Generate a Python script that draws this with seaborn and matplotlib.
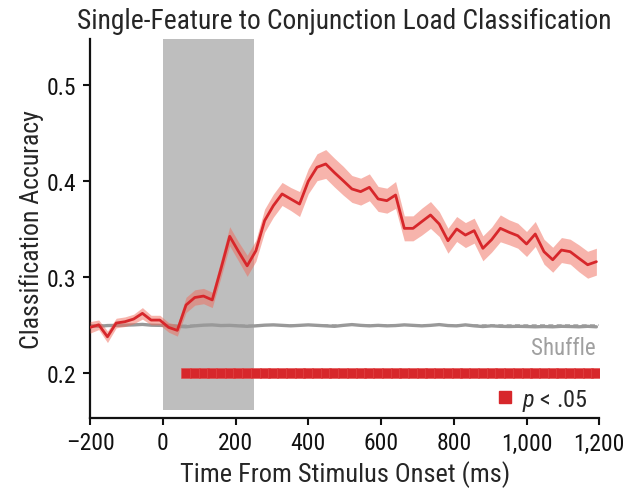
import matplotlib
matplotlib.use('Agg')
import matplotlib.pyplot as plt
import seaborn as sns
import numpy as np
import pandas as pd
from matplotlib import font_manager
from matplotlib.ticker import FuncFormatter
from matplotlib.lines import Line2D

# time points (ms), one every 24 ms from -200
times = [-200 + 24 * k for k in range(59)]

# mean classification accuracy (red line)
accuracy = [0.2479, 0.2506, 0.2381, 0.2524, 0.2538, 0.2566, 0.2625, 0.2555, 0.2555, 0.2479,
            0.2448, 0.2712, 0.2790, 0.2805, 0.2765, 0.3090, 0.3427, 0.3270, 0.3120, 0.3277,
            0.3590, 0.3746, 0.3868, 0.3815, 0.3763, 0.4000, 0.4146, 0.4180, 0.4090, 0.4006,
            0.3920, 0.3892, 0.3937, 0.3816, 0.3798, 0.3857, 0.3510, 0.3510, 0.3580, 0.3649,
            0.3555, 0.3381, 0.3503, 0.3440, 0.3486, 0.3302, 0.3392, 0.3510, 0.3469, 0.3433,
            0.3347, 0.3451, 0.3267, 0.3183, 0.3284, 0.3267, 0.3198, 0.3131, 0.3163]

# half width of shaded band
band = [0.006, 0.005, 0.006, 0.005, 0.005, 0.005, 0.006, 0.005, 0.005, 0.005,
        0.006, 0.008, 0.008, 0.008, 0.008, 0.009, 0.010, 0.010, 0.011, 0.011,
        0.012, 0.012, 0.012, 0.012, 0.013, 0.013, 0.014, 0.015, 0.015, 0.015,
        0.014, 0.014, 0.014, 0.013, 0.013, 0.014, 0.013, 0.013, 0.014, 0.014,
        0.013, 0.013, 0.013, 0.013, 0.013, 0.013, 0.013, 0.014, 0.013, 0.013,
        0.013, 0.013, 0.013, 0.013, 0.013, 0.013, 0.014, 0.014, 0.014]

# shuffled-label accuracy (gray line)
shuffle = [0.2495, 0.2490, 0.2498, 0.2500, 0.2502, 0.2505, 0.2510, 0.2502, 0.2500, 0.2498,
           0.2490, 0.2485, 0.2495, 0.2502, 0.2505, 0.2498, 0.2500, 0.2495, 0.2490, 0.2495,
           0.2502, 0.2505, 0.2500, 0.2495, 0.2500, 0.2505, 0.2500, 0.2495, 0.2490, 0.2500,
           0.2508, 0.2500, 0.2495, 0.2500, 0.2495, 0.2498, 0.2505, 0.2500, 0.2495, 0.2500,
           0.2508, 0.2498, 0.2495, 0.2505, 0.2495, 0.2488, 0.2495, 0.2490, 0.2488, 0.2490,
           0.2488, 0.2485, 0.2488, 0.2485, 0.2490, 0.2488, 0.2485, 0.2490, 0.2485]

chance = 0.25
stim_on, stim_off = 0, 250
sig_times = times[11:]          # p < .05 from here on
sig_level = 0.2

red = '#d7272b'
gray = '#999999'

df = pd.DataFrame({'time': times, 'acc': accuracy, 'band': band, 'shuffle': shuffle})
df['lo'] = df['acc'] - df['band']
df['hi'] = df['acc'] + df['band']

sns.set_style('ticks')

# pick a narrow face if one is around, else Liberation Sans
fonts = font_manager.fontManager.ttflist
names = {f.name for f in fonts}
stretch = 'normal'
family = 'Liberation Sans'
scale = 0.92
for cand in ['Roboto Condensed', 'Liberation Sans Narrow', 'Open Sans Condensed', 'Noto Sans Condensed']:
    if cand in names:
        family, scale = cand, 1.0
        break
else:
    if any(f.name == 'DejaVu Sans' and 'Condensed' in f.fname and 'Bold' not in f.fname for f in fonts):
        family, stretch, scale = 'DejaVu Sans', 'condensed', 0.9
plt.rcParams['font.family'] = [family, 'DejaVu Sans']
plt.rcParams['font.stretch'] = stretch
plt.rcParams['mathtext.fontset'] = 'custom'
plt.rcParams['mathtext.it'] = family + ':italic'
plt.rcParams['mathtext.rm'] = family

fig = plt.figure(figsize=(6.37, 4.89), dpi=100)
ax = fig.add_axes([0.1413, 0.144, 0.7995, 0.774])

# stimulus period
ax.axvspan(stim_on, stim_off, ymin=0.02, ymax=1, color='#bebebe', lw=0, zorder=0)

# chance line and shuffle
ax.axhline(chance, color='#aaaaaa', lw=1.2, ls=(0, (3, 2)), zorder=1)
sns.lineplot(data=df, x='time', y='shuffle', color=gray, lw=2.4, ax=ax, zorder=2)

# classification accuracy
ax.fill_between(df['time'], df['lo'], df['hi'], color='#f06a5a', alpha=0.5, lw=0, zorder=3)
sns.lineplot(data=df, x='time', y='acc', color=red, lw=2.0, ax=ax, zorder=4)

# significance markers
sns.scatterplot(x=sig_times, y=[sig_level] * len(sig_times), marker='s', s=44,
                color=red, edgecolor='#e24a4a', linewidth=0.4, ax=ax, zorder=5)

ax.text(1190, 0.2274, 'Shuffle', color='#a0a0a0', fontsize=16.5 * scale, ha='right', va='center')

handle = Line2D([], [], marker='s', ls='none', color=red, markersize=8.5)
ax.legend([handle], [r'$\mathit{p}$ < .05'], loc='center left', bbox_to_anchor=(0.768, 0.047),
          frameon=False, fontsize=17.5 * scale, handletextpad=0.2, handlelength=1.0, borderpad=0)

ax.set_xlim(-200, 1200)
ax.set_ylim(0.154, 0.548)
ax.set_xticks([-200, 0, 200, 400, 600, 800, 1000, 1200])
ax.set_yticks([0.2, 0.3, 0.4, 0.5])
ax.xaxis.set_major_formatter(FuncFormatter(lambda v, p: f'{v:,.0f}'.replace('-', '\u2013')))
ax.yaxis.set_major_formatter(FuncFormatter(lambda v, p: f'{v:.1f}'))
ax.tick_params(direction='out', length=5, width=1.5, labelsize=17 * scale, colors='#111111', pad=5)

ax.set_xlabel('Time From Stimulus Onset (ms)', fontsize=19 * scale, labelpad=4)
ax.set_ylabel('Classification Accuracy', fontsize=18.5 * scale, labelpad=2)
ax.set_title('Single-Feature to Conjunction Load Classification', fontsize=19.8 * scale, pad=8)

sns.despine(ax=ax)
for s in ['left', 'bottom']:
    ax.spines[s].set_linewidth(1.6)
    ax.spines[s].set_color('#111111')

fig.savefig('out.png', dpi=100)
